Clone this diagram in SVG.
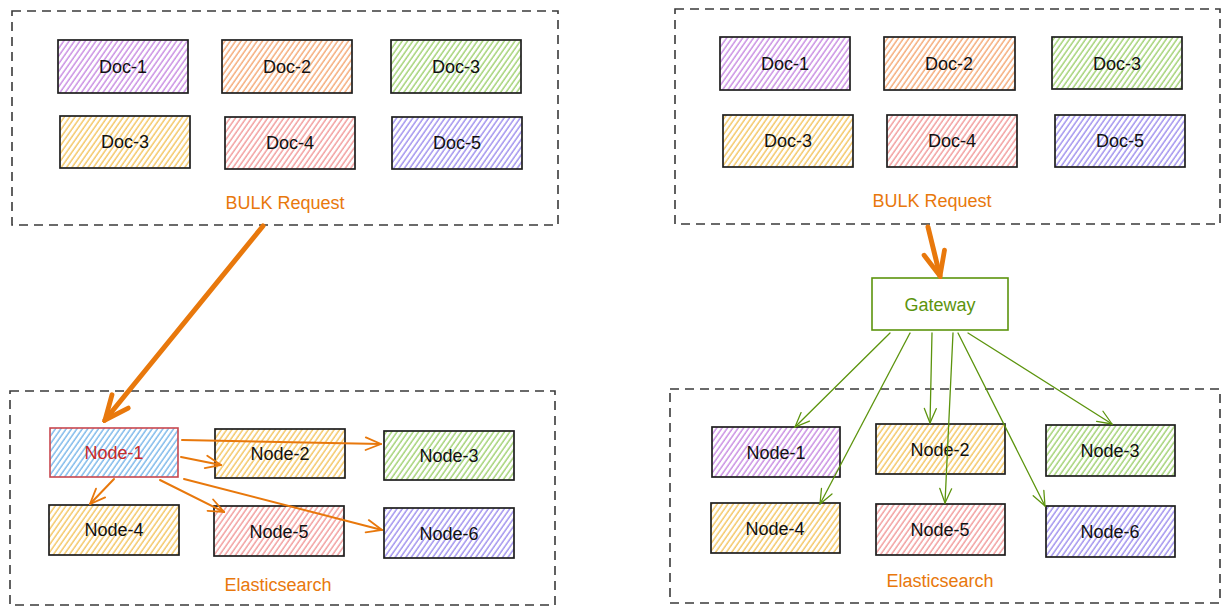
<svg xmlns="http://www.w3.org/2000/svg" width="1230" height="615" viewBox="0 0 1230 615">
<style>
.box{stroke:#1e1e1e;stroke-width:1.7}
.cont{fill:none;stroke:#3a3a3a;stroke-width:1.6;stroke-dasharray:9 6}
.t{font-family:"Liberation Sans",Arial,sans-serif;font-size:18px;fill:#111;text-anchor:middle;dominant-baseline:central}
.lbl{font-family:"Liberation Sans",Arial,sans-serif;font-size:18px;fill:#e8780c;text-anchor:middle;dominant-baseline:central}
.oa{fill:none;stroke:#e8780c;stroke-width:2;stroke-linecap:round}
.big{fill:none;stroke:#e8780c;stroke-width:5;stroke-linecap:round}
.ga{fill:none;stroke:#5c940d;stroke-width:1.3;stroke-linecap:round}
</style>
<defs>
<pattern id="hPurple" width="4.4" height="10" patternUnits="userSpaceOnUse" patternTransform="rotate(35)"><rect width="4.4" height="10" fill="#fff"/><line x1="1" y1="0" x2="1" y2="10" stroke="#c78ae2" stroke-width="1.4"/></pattern>
<pattern id="hOrange" width="4.4" height="10" patternUnits="userSpaceOnUse" patternTransform="rotate(35)"><rect width="4.4" height="10" fill="#fff"/><line x1="1" y1="0" x2="1" y2="10" stroke="#f5a873" stroke-width="1.4"/></pattern>
<pattern id="hGreen" width="4.4" height="10" patternUnits="userSpaceOnUse" patternTransform="rotate(35)"><rect width="4.4" height="10" fill="#fff"/><line x1="1" y1="0" x2="1" y2="10" stroke="#9fd170" stroke-width="1.4"/></pattern>
<pattern id="hYellow" width="4.4" height="10" patternUnits="userSpaceOnUse" patternTransform="rotate(35)"><rect width="4.4" height="10" fill="#fff"/><line x1="1" y1="0" x2="1" y2="10" stroke="#f4c560" stroke-width="1.4"/></pattern>
<pattern id="hRed" width="4.4" height="10" patternUnits="userSpaceOnUse" patternTransform="rotate(35)"><rect width="4.4" height="10" fill="#fff"/><line x1="1" y1="0" x2="1" y2="10" stroke="#f29a9a" stroke-width="1.4"/></pattern>
<pattern id="hViolet" width="4.4" height="10" patternUnits="userSpaceOnUse" patternTransform="rotate(35)"><rect width="4.4" height="10" fill="#fff"/><line x1="1" y1="0" x2="1" y2="10" stroke="#9d8eee" stroke-width="1.4"/></pattern>
<pattern id="hBlue" width="4.4" height="10" patternUnits="userSpaceOnUse" patternTransform="rotate(35)"><rect width="4.4" height="10" fill="#fff"/><line x1="1" y1="0" x2="1" y2="10" stroke="#78b6ea" stroke-width="1.4"/></pattern>
<marker id="mO" markerUnits="userSpaceOnUse" viewBox="0 0 20 20" refX="19" refY="10" markerWidth="18" markerHeight="18" orient="auto"><path d="M2,3 L19,10 L2,17" fill="none" stroke="#e8780c" stroke-width="2" stroke-linecap="round"/></marker>
<marker id="mBig" markerUnits="userSpaceOnUse" viewBox="0 0 20 20" refX="18" refY="10" markerWidth="30" markerHeight="30" orient="auto"><path d="M2,3 L18,10 L2,17" fill="none" stroke="#e8780c" stroke-width="3.2" stroke-linecap="round"/></marker>
<marker id="mG" markerUnits="userSpaceOnUse" viewBox="0 0 20 20" refX="19" refY="10" markerWidth="17" markerHeight="17" orient="auto"><path d="M2,3 L19,10 L2,17" fill="none" stroke="#5c940d" stroke-width="1.5" stroke-linecap="round"/></marker>
</defs>
<rect width="1230" height="615" fill="#fff"/>

<!-- LEFT -->
<g id="left-bulk">
<rect class="cont" x="12" y="11" width="546" height="214"/>
<text class="lbl" x="285" y="203">BULK Request</text>
</g>
<g id="l-doc1"><rect class="box" x="58" y="40" width="130" height="53" fill="url(#hPurple)"/><text class="t" x="123" y="67">Doc-1</text></g>
<g id="l-doc2"><rect class="box" x="222" y="40" width="130" height="53" fill="url(#hOrange)"/><text class="t" x="287" y="67">Doc-2</text></g>
<g id="l-doc3"><rect class="box" x="391" y="40" width="130" height="53" fill="url(#hGreen)"/><text class="t" x="456" y="67">Doc-3</text></g>
<g id="l-doc3b"><rect class="box" x="60" y="116" width="130" height="52" fill="url(#hYellow)"/><text class="t" x="125" y="142">Doc-3</text></g>
<g id="l-doc4"><rect class="box" x="225" y="117" width="130" height="52" fill="url(#hRed)"/><text class="t" x="290" y="143">Doc-4</text></g>
<g id="l-doc5"><rect class="box" x="392" y="117" width="130" height="52" fill="url(#hViolet)"/><text class="t" x="457" y="143">Doc-5</text></g>

<g id="left-es">
<rect class="cont" x="10" y="391" width="545" height="214"/>
<text class="lbl" x="278" y="585">Elasticsearch</text>
</g>
<g id="l-node1"><rect x="50" y="428" width="128" height="49" fill="url(#hBlue)" stroke="#c9484f" stroke-width="1.6"/><text class="t" x="114" y="453" style="fill:#c92a2a">Node-1</text></g>
<g id="l-node2"><rect class="box" x="215" y="429" width="130" height="49" fill="url(#hYellow)"/><text class="t" x="280" y="454">Node-2</text></g>
<g id="l-node3"><rect class="box" x="384" y="431" width="130" height="49" fill="url(#hGreen)"/><text class="t" x="449" y="456">Node-3</text></g>
<g id="l-node4"><rect class="box" x="49" y="505" width="130" height="50" fill="url(#hYellow)"/><text class="t" x="114" y="530">Node-4</text></g>
<g id="l-node5"><rect class="box" x="214" y="506" width="130" height="50" fill="url(#hRed)"/><text class="t" x="279" y="532">Node-5</text></g>
<g id="l-node6"><rect class="box" x="384" y="508" width="130" height="50" fill="url(#hViolet)"/><text class="t" x="449" y="534">Node-6</text></g>

<!-- RIGHT -->
<g id="right-bulk">
<rect class="cont" x="675" y="9" width="545" height="215"/>
<text class="lbl" x="932" y="201">BULK Request</text>
</g>
<g id="r-doc1"><rect class="box" x="720" y="37" width="130" height="53" fill="url(#hPurple)"/><text class="t" x="785" y="64">Doc-1</text></g>
<g id="r-doc2"><rect class="box" x="884" y="37" width="131" height="53" fill="url(#hOrange)"/><text class="t" x="949" y="64">Doc-2</text></g>
<g id="r-doc3"><rect class="box" x="1052" y="37" width="130" height="52" fill="url(#hGreen)"/><text class="t" x="1117" y="64">Doc-3</text></g>
<g id="r-doc3b"><rect class="box" x="723" y="115" width="130" height="52" fill="url(#hYellow)"/><text class="t" x="788" y="141">Doc-3</text></g>
<g id="r-doc4"><rect class="box" x="887" y="115" width="130" height="52" fill="url(#hRed)"/><text class="t" x="952" y="141">Doc-4</text></g>
<g id="r-doc5"><rect class="box" x="1055" y="115" width="130" height="52" fill="url(#hViolet)"/><text class="t" x="1120" y="141">Doc-5</text></g>

<g id="gateway"><rect x="872" y="278" width="136" height="52" fill="#fff" stroke="#5c940d" stroke-width="1.6"/><text class="t" x="940" y="305" style="fill:#5c940d">Gateway</text></g>

<g id="right-es">
<rect class="cont" x="670" y="389" width="550" height="214"/>
<text class="lbl" x="940" y="581">Elasticsearch</text>
</g>
<g id="r-node1"><rect class="box" x="712" y="427" width="128" height="50" fill="url(#hPurple)"/><text class="t" x="776" y="453">Node-1</text></g>
<g id="r-node2"><rect class="box" x="876" y="424" width="129" height="50" fill="url(#hYellow)"/><text class="t" x="940" y="450">Node-2</text></g>
<g id="r-node3"><rect class="box" x="1046" y="425" width="129" height="51" fill="url(#hGreen)"/><text class="t" x="1110" y="451">Node-3</text></g>
<g id="r-node4"><rect class="box" x="711" y="503" width="129" height="50" fill="url(#hYellow)"/><text class="t" x="775" y="529">Node-4</text></g>
<g id="r-node5"><rect class="box" x="876" y="504" width="129" height="51" fill="url(#hRed)"/><text class="t" x="940" y="530">Node-5</text></g>
<g id="r-node6"><rect class="box" x="1046" y="506" width="129" height="51" fill="url(#hViolet)"/><text class="t" x="1110" y="532">Node-6</text></g>

<g id="connectors">
<line class="big" x1="263" y1="226" x2="105" y2="420" marker-end="url(#mBig)"/>
<line class="oa" x1="182" y1="440" x2="381" y2="444" marker-end="url(#mO)"/>
<line class="oa" x1="181" y1="457" x2="221" y2="465" marker-end="url(#mO)"/>
<line class="oa" x1="114" y1="479" x2="90" y2="504" marker-end="url(#mO)"/>
<line class="oa" x1="160" y1="480" x2="224" y2="512" marker-end="url(#mO)"/>
<line class="oa" x1="184" y1="479" x2="382" y2="530" marker-end="url(#mO)"/>

<line class="big" x1="928" y1="227" x2="940" y2="276" marker-end="url(#mBig)"/>
<line class="ga" x1="890" y1="333" x2="795" y2="427" marker-end="url(#mG)"/>
<line class="ga" x1="910" y1="333" x2="820" y2="504" marker-end="url(#mG)"/>
<line class="ga" x1="932" y1="333" x2="930" y2="423" marker-end="url(#mG)"/>
<line class="ga" x1="953" y1="333" x2="945" y2="503" marker-end="url(#mG)"/>
<line class="ga" x1="958" y1="333" x2="1045" y2="506" marker-end="url(#mG)"/>
<line class="ga" x1="968" y1="333" x2="1112" y2="424" marker-end="url(#mG)"/>
</g>
</svg>
